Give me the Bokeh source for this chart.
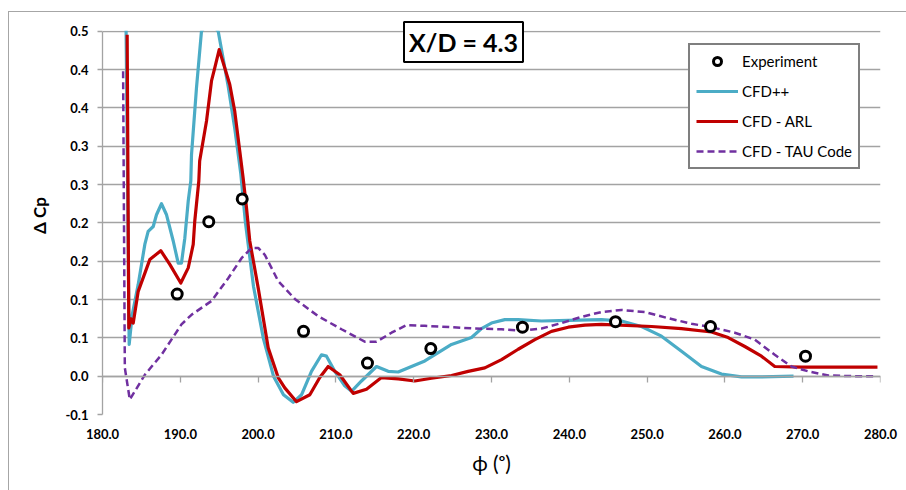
from bokeh.plotting import figure
from bokeh.models import (FixedTicker, LinearAxis, Label, Legend, LegendItem,
                          Range1d, NumeralTickFormatter, BoxAnnotation)
from bokeh.embed import file_html
from bokeh.resources import INLINE

# ---------------- data ----------------
exp_phi = [189.60, 193.66, 197.96, 205.84, 214.06, 222.20, 233.98, 245.94, 258.15, 270.36]
exp_dcp = [0.119, 0.224, 0.257, 0.065, 0.019, 0.040, 0.071, 0.079, 0.072, 0.029]

cfdpp_phi = [183.02, 183.43, 183.82, 184.59, 185.44, 185.87, 186.52, 186.94, 187.58, 188.23,
             189.09, 189.73, 190.15, 190.58, 191.02, 191.35, 191.44, 192.08, 192.72, 193.80,
             194.87, 196.16, 197.00, 197.78, 198.38, 199.41, 200.69, 201.98, 203.26, 204.51,
             205.58, 206.86, 208.15, 208.79, 209.86, 211.14, 212.01, 213.29, 215.22, 216.72,
             218.01, 219.72, 221.43, 223.15, 224.86, 227.43, 228.71, 229.99, 231.71, 233.43,
             236.43, 239.86, 244.14, 246.71, 249.28, 251.85, 254.42, 256.99, 259.56, 262.13,
             264.70, 268.82]
cfdpp_dcp = [0.515, 0.046, 0.089, 0.133, 0.191, 0.210, 0.217, 0.234, 0.250, 0.234,
             0.196, 0.164, 0.164, 0.200, 0.254, 0.283, 0.321, 0.418, 0.500, 0.515,
             0.500, 0.420, 0.359, 0.293, 0.222, 0.130, 0.054, 0.000, -0.027, -0.038,
             -0.027, 0.007, 0.031, 0.029, 0.007, -0.014, -0.022, -0.007, 0.014, 0.007,
             0.006, 0.014, 0.022, 0.034, 0.046, 0.056, 0.069, 0.077, 0.082, 0.082,
             0.080, 0.081, 0.082, 0.080, 0.072, 0.058, 0.036, 0.014, 0.003, -0.001,
             -0.001, 0.000]

arl_phi = [183.17, 183.38, 183.66, 183.95, 184.59, 186.08, 187.49, 188.65, 190.06, 191.02,
           191.66, 191.86, 192.38, 192.49, 193.37, 194.01, 194.43, 195.00, 196.36, 197.00,
           197.65, 198.08, 198.51, 198.93, 200.01, 201.30, 202.58, 203.43, 204.94, 206.65,
           207.93, 209.01, 210.50, 212.22, 213.93, 215.86, 218.01, 220.14, 222.29, 224.86,
           227.00, 229.14, 231.29, 233.43, 235.57, 237.71, 239.86, 242.00, 244.14, 250.57,
           254.42, 258.28, 260.42, 262.56, 264.70, 266.41, 269.85, 274.13, 279.61]
arl_dcp = [0.495, 0.070, 0.083, 0.077, 0.123, 0.169, 0.182, 0.162, 0.135, 0.157,
           0.191, 0.225, 0.283, 0.312, 0.370, 0.428, 0.447, 0.4735, 0.423, 0.384,
           0.326, 0.287, 0.244, 0.196, 0.128, 0.041, -0.002, -0.017, -0.037, -0.027,
           -0.002, 0.014, 0.002, -0.025, -0.019, -0.002, -0.004, -0.007, -0.003, 0.001,
           0.007, 0.012, 0.024, 0.039, 0.053, 0.065, 0.071, 0.074, 0.075, 0.072,
           0.069, 0.064, 0.056, 0.043, 0.029, 0.014, 0.013, 0.013, 0.013]

tau_phi = [182.65, 182.87, 183.51, 185.44, 187.58, 190.15, 191.44, 194.01, 196.16, 197.87,
           199.15, 200.01, 200.86, 202.58, 204.72, 207.72, 210.72, 213.71, 215.22, 217.15,
           219.07, 221.43, 224.86, 227.85, 231.29, 233.86, 236.43, 239.00, 241.57, 244.14,
           246.71, 249.70, 252.71, 255.71, 258.28, 261.27, 263.84, 266.41, 268.56, 270.71,
           273.28, 276.70, 279.27]
tau_dcp = [0.442, 0.012, -0.034, 0.002, 0.031, 0.075, 0.089, 0.109, 0.142, 0.171,
           0.186, 0.186, 0.176, 0.138, 0.112, 0.087, 0.068, 0.050, 0.050, 0.063,
           0.074, 0.073, 0.071, 0.069, 0.068, 0.066, 0.069, 0.077, 0.086, 0.093,
           0.096, 0.093, 0.084, 0.076, 0.071, 0.063, 0.053, 0.031, 0.014, 0.007,
           0.001, 0.000, 0.000]

x_ticks = [180, 190, 200, 210, 220, 230, 240, 250, 260, 270, 280]
y_ticks = [-0.0556, 0.0, 0.0556, 0.1111, 0.1667, 0.2222, 0.2778, 0.3333, 0.3889, 0.4444, 0.5]
y_tick_labels = ["-0.1", "0.0", "0.1", "0.1", "0.2", "0.2", "0.3", "0.3", "0.4", "0.4", "0.5"]

series_names = ["Experiment", "CFD++", "CFD - ARL", "CFD - TAU Code"]
title_text = "X/D = 4.3"

# ---------------- styling ----------------
FONT = "Lato"
GRID = "#a3a3a3"
C_CYAN = "#4bacc6"
C_RED = "#c00000"
C_PURPLE = "#7030a0"
Y_MIN, Y_MAX = y_ticks[0], y_ticks[-1]
Y_TOP = 0.5215          # a little head-room above the last tick for the title box

p = figure(width=898, height=479,
           x_range=Range1d(180, 280), y_range=Range1d(Y_MIN, Y_TOP),
           output_backend="svg", toolbar_location=None,
           min_border_left=93, min_border_right=27, min_border_top=4, min_border_bottom=77,
           x_axis_label="ϕ (ᵒ)", y_axis_label="Δ Cp")
p.outline_line_color = None
p.background_fill_color = "white"
p.border_fill_color = "white"
p.styles = {"margin-left": "8px", "margin-top": "11px",
            "border-top": "1px solid #a6a6a6", "border-left": "1px solid #a6a6a6"}

p.xgrid.visible = False
p.ygrid.ticker = FixedTicker(ticks=y_ticks)
p.ygrid.grid_line_color = GRID
p.ygrid.grid_line_width = 1.3

# y axis
p.yaxis.ticker = FixedTicker(ticks=y_ticks)
p.yaxis.bounds = (Y_MIN, Y_MAX)
p.yaxis.major_label_overrides = dict(zip(y_ticks, y_tick_labels))
p.yaxis.axis_line_color = GRID
p.yaxis.axis_line_width = 1.3
p.yaxis.major_tick_line_color = GRID
p.yaxis.major_tick_line_width = 1.3
p.yaxis.major_tick_out = 5
p.yaxis.major_tick_in = 0
p.yaxis.minor_tick_out = 0
p.yaxis.minor_tick_in = 0
p.yaxis.major_label_standoff = 9
p.yaxis.major_label_text_font = FONT
p.yaxis.major_label_text_font_style = "bold"
p.yaxis.major_label_text_font_size = "13px"
p.yaxis.major_label_text_color = "black"
p.yaxis.axis_label_text_font = FONT
p.yaxis.axis_label_text_font_style = "bold"
p.yaxis.axis_label_text_font_size = "17px"
p.yaxis.axis_label_text_color = "black"
p.yaxis.axis_label_standoff = 12

# bottom axis: labels only
p.xaxis.ticker = FixedTicker(ticks=x_ticks)
p.xaxis.formatter = NumeralTickFormatter(format="0.0")
p.xaxis.axis_line_color = None
p.xaxis.major_tick_out = 0
p.xaxis.major_tick_in = 0
p.xaxis.minor_tick_out = 0
p.xaxis.minor_tick_in = 0
p.xaxis.major_label_standoff = 14
p.xaxis.major_label_text_font = FONT
p.xaxis.major_label_text_font_style = "bold"
p.xaxis.major_label_text_font_size = "13px"
p.xaxis.major_label_text_color = "black"
p.xaxis.axis_label_text_font = FONT
p.xaxis.axis_label_text_font_style = "normal"
p.xaxis.axis_label_text_font_size = "21px"
p.xaxis.axis_label_text_color = "black"
p.xaxis.axis_label_standoff = 8

# axis line crossing at zero with downward ticks (no labels)
zero_axis = LinearAxis(fixed_location=0, ticker=FixedTicker(ticks=x_ticks),
                       major_label_overrides={t: "" for t in x_ticks},
                       major_label_text_color=None, major_label_standoff=0,
                       major_tick_in=0, major_tick_out=6, minor_tick_in=0, minor_tick_out=0,
                       axis_line_color=GRID, axis_line_width=1.3,
                       major_tick_line_color=GRID, major_tick_line_width=1.3)
p.add_layout(zero_axis, "below")

# series
r_cfd = p.line(cfdpp_phi, cfdpp_dcp, line_color=C_CYAN, line_width=3.2, line_join="round")
r_arl = p.line(arl_phi, arl_dcp, line_color=C_RED, line_width=3.2, line_join="round")
r_tau = p.line(tau_phi, tau_dcp, line_color=C_PURPLE, line_width=2.5, line_dash="7 4")
r_exp = p.scatter(exp_phi, exp_dcp, marker="circle", size=10, line_color="black",
                  line_width=3, fill_color="white")

# white mask above the top of the value axis (the chart clips at 0.5)
p.add_layout(BoxAnnotation(bottom=Y_MAX + 0.001, top=Y_TOP + 0.05, left=179, right=281,
                           fill_color="white", fill_alpha=1, line_color=None))

legend = Legend(items=[LegendItem(label=series_names[0], renderers=[r_exp]),
                       LegendItem(label=series_names[1], renderers=[r_cfd]),
                       LegendItem(label=series_names[2], renderers=[r_arl]),
                       LegendItem(label=series_names[3], renderers=[r_tau])],
                location=(586, 245), orientation="vertical",
                glyph_width=42, glyph_height=20, label_height=20, spacing=10,
                padding=6, margin=0, label_standoff=4,
                label_text_font=FONT, label_text_font_size="15px", label_text_color="black",
                border_line_color="black", border_line_width=2,
                background_fill_color="white", background_fill_alpha=1)
p.add_layout(legend)

title = Label(x=226.4, y=0.4845, text=title_text, text_align="center",
              text_baseline="middle", text_font=FONT, text_font_style="bold",
              text_font_size="25px", text_color="black",
              border_line_color="black", border_line_width=2,
              background_fill_color="white", padding=5)
p.add_layout(title)

open("out.html", "w").write(file_html(p, INLINE))
